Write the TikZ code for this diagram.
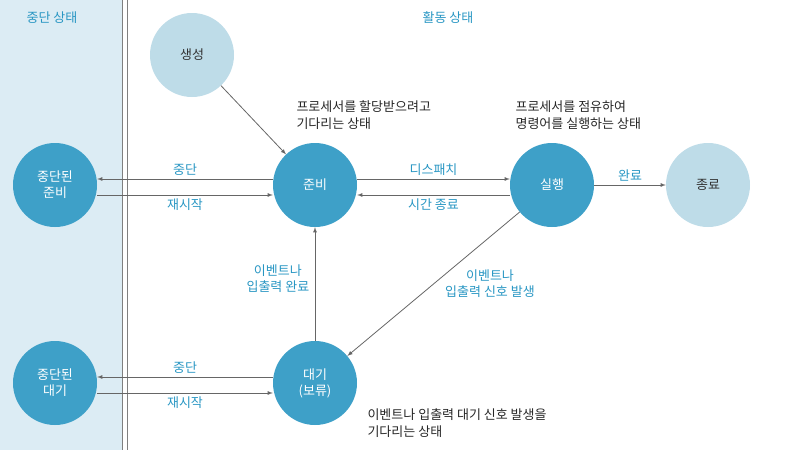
\documentclass[tikz,border=0pt]{standalone}
\usepackage{fontspec}
\newfontfamily\kr{Noto Sans CJK KR}
\usetikzlibrary{calc}
\definecolor{dark}{RGB}{62,160,200}
\definecolor{light}{RGB}{190,220,232}
\definecolor{panel}{RGB}{220,236,244}
\definecolor{lbl}{RGB}{40,150,195}
\tikzset{every edge/.style={draw, gray!80!black, line width=0.8pt, -latex}}
\tikzset{dstate/.style={circle, fill=dark, text=white, minimum size=84pt, inner sep=0pt, align=center, font=\kr\fontsize{13}{16}\selectfont}}
\tikzset{lstate/.style={circle, fill=light, text=black!80, minimum size=84pt, inner sep=0pt, align=center, font=\kr\fontsize{13}{16}\selectfont}}
\tikzset{lab/.style={text=lbl, font=\kr\fontsize{13}{16}\selectfont, align=center}}
\tikzset{note/.style={text=black!85, font=\kr\fontsize{13}{17}\selectfont, align=left}}
\begin{document}
\begin{tikzpicture}[x=1pt,y=-1pt]
    \path[use as bounding box] (0,0) rectangle (800,450);
    \fill[panel] (0,0) rectangle (122,450);
    \draw[gray, line width=0.8pt] (122,0) -- (122,450);
    \draw[gray, line width=0.8pt] (127,0) -- (127,450);

    \node[lab] at (52,18) (hs) {중단 상태};
    \node[lab] at (448,18) (ha) {활동 상태};

    \node[lstate] at (192,55) (new) {생성};
    \node[dstate] at (315,185) (ready) {준비};
    \node[dstate] at (552,185) (run) {실행};
    \node[lstate] at (708,185) (end) {종료};
    \node[dstate] at (55,185) (sready) {중단된\\준비};
    \node[dstate] at (55,383) (swait) {중단된\\대기};
    \node[dstate] at (315,383) (wait) {대기\\(보류)};

    \draw (new) edge (ready);
    \draw ($(ready.west)+(0,-6)$) edge node[lab, above] {중단} ($(sready.east)+(0,-6)$);
    \draw ($(sready.east)+(0,10)$) edge node[lab, below] {재시작} ($(ready.west)+(0,10)$);
    \draw ($(ready.east)+(0,-6)$) edge node[lab, above] {디스패치} ($(run.west)+(0,-6)$);
    \draw ($(run.west)+(0,10)$) edge node[lab, below] {시간 종료} ($(ready.east)+(0,10)$);
    \draw (run) edge node[lab, above] {완료} (end);
    \draw (run) edge node[lab, right=8pt] {이벤트나\\입출력 신호 발생} (wait);
    \draw (wait) edge node[lab, left=2pt, pos=0.55] {이벤트나\\입출력 완료} (ready);
    \draw ($(wait.west)+(0,-6)$) edge node[lab, above] {중단} ($(swait.east)+(0,-6)$);
    \draw ($(swait.east)+(0,10)$) edge node[lab, below] {재시작} ($(wait.west)+(0,10)$);

    \node[note, anchor=west] at (293,115) (n1) {프로세서를 할당받으려고\\기다리는 상태};
    \node[note, anchor=west] at (512,115) (n2) {프로세서를 점유하여\\명령어를 실행하는 상태};
    \node[note, anchor=west] at (364,423) (n3) {이벤트나 입출력 대기 신호 발생을\\기다리는 상태};
\end{tikzpicture}
\end{document}
